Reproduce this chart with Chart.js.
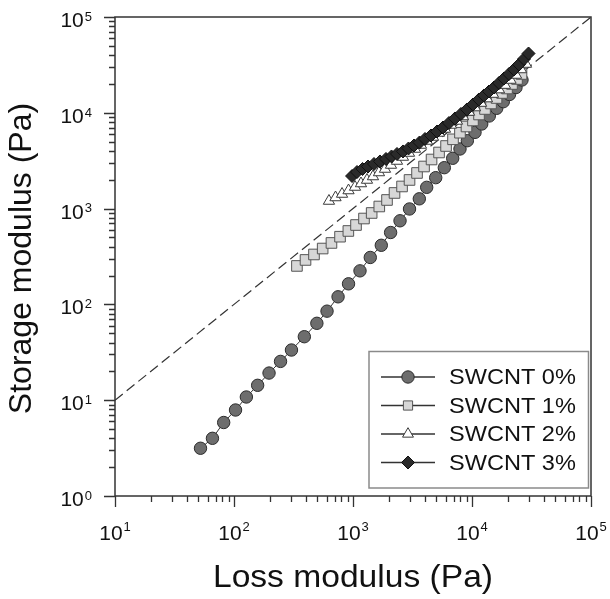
<!DOCTYPE html>
<html><head><meta charset="utf-8">
<script src="https://cdn.jsdelivr.net/npm/chart.js@4.4.1/dist/chart.umd.min.js"></script>
<style>html,body{margin:0;padding:0;background:#fff;} canvas{display:block;}</style>
</head><body>
<canvas id="c" width="610" height="599"></canvas>
<script>
// ---------- data ----------
const seriesNames = ['SWCNT 0%', 'SWCNT 1%', 'SWCNT 2%', 'SWCNT 3%'];

const loss0 = [52.3, 65.9, 81.9, 103, 127, 158, 197, 246, 304, 390, 497, 605, 749, 917, 1145, 1397, 1729, 2070, 2484, 2985, 3608, 4161, 4955, 5853, 6883, 7926, 9140, 10600, 12070, 13970, 16130, 18330, 20650, 23420, 26300];
const stor0 = [3.15, 4.0, 5.85, 7.9, 10.8, 14.3, 19.2, 25.4, 33.4, 46, 63.5, 85, 120, 164, 224, 309, 414, 563, 746, 991, 1265, 1667, 2103, 2674, 3350, 4190, 5115, 6250, 7640, 9265, 11140, 13060, 15520, 18360, 22000];

const loss1 = [338, 399, 470, 556, 659, 778, 914, 1060, 1237, 1435, 1663, 1931, 2233, 2583, 2986, 3452, 3953, 4571, 5285, 6054, 6924, 7920, 8990, 10190, 11450, 12860, 14450, 16070, 17870, 19680, 21680, 23880, 26060];
const stor1 = [252, 291, 332, 383, 438, 509, 584, 674, 788, 900, 1052, 1230, 1456, 1702, 1990, 2355, 2751, 3255, 3852, 4502, 5288, 6197, 7194, 8315, 9600, 10960, 12510, 14270, 16100, 17940, 19990, 22540, 25420];

const loss2 = [628, 713, 809, 917, 1040, 1167, 1311, 1472, 1653, 1857, 2085, 2342, 2630, 2955, 3318, 3726, 4186, 4700, 5280, 5930, 6660, 7480, 8400, 9440, 10600, 11910, 13370, 15010, 16860, 18930, 21080, 23450, 25830, 28430];
const stor2 = [1200, 1306, 1420, 1545, 1680, 1828, 1989, 2163, 2382, 2590, 2851, 3139, 3456, 3805, 4190, 4613, 5079, 5592, 6157, 6779, 7464, 8218, 9150, 10190, 11350, 12640, 14080, 15690, 17480, 19470, 21990, 24810, 28330, 32300];

const loss3 = [982, 1081, 1203, 1337, 1501, 1686, 1893, 2107, 2344, 2632, 2926, 3256, 3621, 4028, 4523, 5079, 5704, 6406, 7193, 8077, 9071, 10190, 11440, 12610, 13900, 15320, 16870, 18590, 20480, 22560, 24850, 27370, 29860];
const stor3 = [2188, 2410, 2590, 2750, 2922, 3104, 3297, 3500, 3718, 3949, 4240, 4556, 4895, 5330, 5797, 6380, 7021, 7826, 8723, 9723, 10830, 12210, 13770, 15170, 16690, 18370, 20480, 22820, 25420, 28330, 31910, 36470, 41590];

const refLineX = [10, 100000];
const refLineY = [10, 100000];

const xTickExps = [1, 2, 3, 4, 5];
const yTickExps = [0, 1, 2, 3, 4, 5];
const xTitle = 'Loss modulus (Pa)';
const yTitle = 'Storage modulus (Pa)';

// ---------- styling ----------
const FONT = "'Liberation Sans', Arial, Helvetica, sans-serif";
const styles = [
  {pointStyle: 'circle',   radius: 6.2, fill: '#6d6d6d', stroke: '#2c2c2c'},
  {pointStyle: 'rect',     radius: 7.5, fill: '#d7d7d7', stroke: '#555555'},
  {pointStyle: 'triangle', radius: 6.5, fill: '#ffffff', stroke: '#3a3a3a'},
  {pointStyle: 'rectRot',  radius: 6.5, fill: '#2a2a2a', stroke: '#111111'}
];
const lossArr = [loss0, loss1, loss2, loss3];
const storArr = [stor0, stor1, stor2, stor3];

function pts(xs, ys) { return xs.map((x, i) => ({x: x, y: ys[i]})); }

const datasets = seriesNames.map((name, i) => ({
  label: name,
  data: pts(lossArr[i], storArr[i]),
  showLine: true,
  borderColor: '#333333',
  borderWidth: 1,
  pointStyle: styles[i].pointStyle,
  pointRadius: styles[i].radius,
  pointBackgroundColor: styles[i].fill,
  pointBorderColor: styles[i].stroke,
  pointBorderWidth: 1,
  order: 4 - i
}));
datasets.push({
  label: 'ref',
  data: pts(refLineX, refLineY),
  showLine: true,
  borderColor: '#333333',
  borderWidth: 1.2,
  borderDash: [10, 5],
  pointRadius: 0,
  order: 10
});

function drawMarker(ctx, st, x, y, r) {
  ctx.save();
  ctx.fillStyle = st.fill;
  ctx.strokeStyle = st.stroke;
  ctx.lineWidth = 1;
  ctx.beginPath();
  if (st.pointStyle === 'circle') {
    ctx.arc(x, y, r, 0, Math.PI * 2);
  } else if (st.pointStyle === 'rect') {
    ctx.rect(x - r, y - r, 2 * r, 2 * r);
  } else if (st.pointStyle === 'triangle') {
    ctx.moveTo(x, y - r);
    ctx.lineTo(x + r * 0.866, y + r * 0.5);
    ctx.lineTo(x - r * 0.866, y + r * 0.5);
    ctx.closePath();
  } else {
    ctx.moveTo(x, y - r); ctx.lineTo(x + r, y); ctx.lineTo(x, y + r); ctx.lineTo(x - r, y);
    ctx.closePath();
  }
  ctx.fill(); ctx.stroke();
  ctx.restore();
}

function stretchedText(ctx, text, x, y, sx) {
  ctx.save();
  ctx.translate(x, y);
  ctx.scale(sx, 1);
  ctx.fillText(text, 0, 0);
  ctx.restore();
}

const decor = {
  id: 'decor',
  afterDraw(chart) {
    const ctx = chart.ctx, ca = chart.chartArea;
    const xs = chart.scales.x, ys = chart.scales.y;
    ctx.save();
    // frame
    ctx.strokeStyle = '#333';
    ctx.lineWidth = 1.5;
    ctx.strokeRect(ca.left, ca.top, ca.right - ca.left, ca.bottom - ca.top);
    // ticks
    ctx.lineWidth = 1.3;
    ctx.beginPath();
    for (let e = xTickExps[0]; e <= xTickExps[xTickExps.length - 1]; e++) {
      for (let k = 1; k <= 9; k++) {
        if (e === xTickExps[xTickExps.length - 1] && k > 1) break;
        const px = Math.round(xs.getPixelForValue(k * Math.pow(10, e))) + 0.5;
        const len = k === 1 ? 11 : 6;
        ctx.moveTo(px, ca.bottom); ctx.lineTo(px, ca.bottom + len);
      }
    }
    for (let e = yTickExps[0]; e <= yTickExps[yTickExps.length - 1]; e++) {
      for (let k = 1; k <= 9; k++) {
        if (e === yTickExps[yTickExps.length - 1] && k > 1) break;
        const py = Math.round(ys.getPixelForValue(k * Math.pow(10, e))) + 0.5;
        const len = k === 1 ? 11 : 6;
        ctx.moveTo(ca.left, py); ctx.lineTo(ca.left - len, py);
      }
    }
    ctx.stroke();
    // tick labels
    ctx.fillStyle = '#111';
    const bigF = '21px ' + FONT, smallF = '13px ' + FONT;
    ctx.textBaseline = 'alphabetic';
    ctx.textAlign = 'left';
    xTickExps.forEach(e => {
      const px = xs.getPixelForValue(Math.pow(10, e));
      ctx.font = bigF; const w1 = ctx.measureText('10').width;
      ctx.font = smallF; const w2 = ctx.measureText(String(e)).width;
      const x0 = px - (w1 + 1 + w2) / 2;
      ctx.font = bigF; ctx.fillText('10', x0, ca.bottom + 44);
      ctx.font = smallF; ctx.fillText(String(e), x0 + w1 + 1, ca.bottom + 35);
    });
    yTickExps.forEach(e => {
      const py = ys.getPixelForValue(Math.pow(10, e));
      ctx.font = smallF; const w2 = ctx.measureText(String(e)).width;
      ctx.font = bigF; const w1 = ctx.measureText('10').width;
      const xr = ca.left - 23;
      ctx.font = bigF; ctx.fillText('10', xr - w2 - 1 - w1, py + 10);
      ctx.font = smallF; ctx.fillText(String(e), xr - w2, py + 3.7);
    });
    // axis titles
    ctx.font = '32px ' + FONT;
    ctx.textAlign = 'center';
    ctx.textBaseline = 'middle';
    ctx.fillStyle = '#111';
    stretchedText(ctx, xTitle, (ca.left + ca.right) / 2, 578, 1.05);
    ctx.save();
    ctx.translate(22, (ca.top + ca.bottom) / 2 + 2);
    ctx.rotate(-Math.PI / 2);
    ctx.fillText(yTitle, 0, 0);
    ctx.restore();
    // legend
    const bw = 219.5, bh = 136.5;
    const bx = ca.right - 2.5 - bw, by = ca.bottom - 8 - bh;
    ctx.fillStyle = '#fff';
    ctx.fillRect(bx, by, bw, bh);
    ctx.strokeStyle = '#8a8a8a';
    ctx.lineWidth = 1.5;
    ctx.strokeRect(bx, by, bw, bh);
    const legR = [6.2, 4.6, 6.3, 6.5];
    seriesNames.forEach((name, i) => {
      const cy = by + 25.5 + i * 28.5;
      ctx.strokeStyle = '#333'; ctx.lineWidth = 1.3;
      ctx.beginPath(); ctx.moveTo(bx + 12, cy); ctx.lineTo(bx + 66, cy); ctx.stroke();
      drawMarker(ctx, styles[i], bx + 39, cy, legR[i]);
      ctx.font = '22px ' + FONT;
      ctx.fillStyle = '#111';
      ctx.textAlign = 'left';
      ctx.textBaseline = 'middle';
      stretchedText(ctx, name, bx + 80, cy + 1, 1.07);
    });
    ctx.restore();
  }
};

new Chart(document.getElementById('c'), {
  type: 'scatter',
  data: {datasets: datasets},
  options: {
    responsive: false,
    animation: false,
    devicePixelRatio: 1,
    layout: {padding: {left: 115, right: 19, top: 17, bottom: 103}},
    plugins: {legend: {display: false}, tooltip: {enabled: false}},
    scales: {
      x: {type: 'logarithmic', min: 10, max: 100000, display: false},
      y: {type: 'logarithmic', min: 1, max: 100000, display: false}
    }
  },
  plugins: [decor]
});
</script>
</body></html>
